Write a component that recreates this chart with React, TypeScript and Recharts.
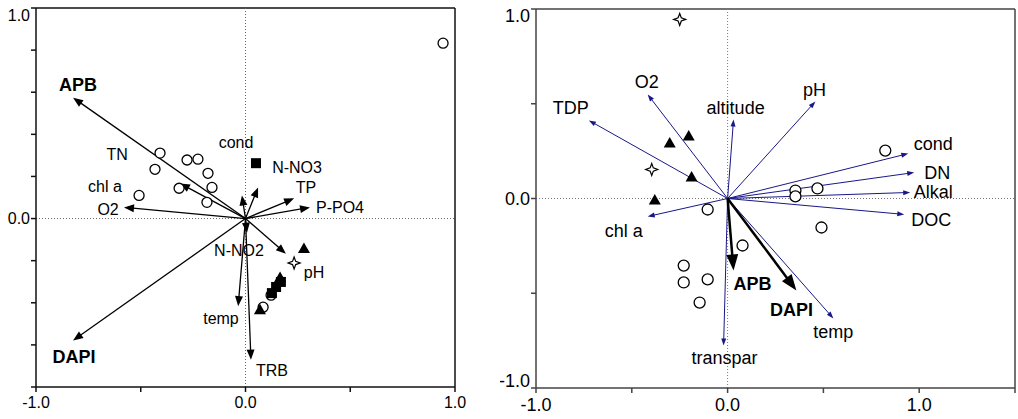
import { ReferenceLine, Scatter, ScatterChart, XAxis, YAxis } from "recharts";

type Pt = { x: number; y: number };
type Named = Pt & { name: string };

// ---- left biplot ----
const leftVectors: Named[] = [
  { name: "APB", x: -0.823, y: 0.574 },
  { name: "DAPI", x: -0.823, y: -0.579 },
  { name: "O2", x: -0.58, y: 0.053 },
  { name: "chl a", x: -0.313, y: 0.167 },
  { name: "cond", x: -0.017, y: 0.11 },
  { name: "N-NO3", x: 0.06, y: 0.148 },
  { name: "TP", x: 0.232, y: 0.096 },
  { name: "P-PO4", x: 0.308, y: 0.053 },
  { name: "N-NO2", x: 0.007, y: -0.067 },
  { name: "pH", x: 0.193, y: -0.167 },
  { name: "temp", x: -0.035, y: -0.416 },
  { name: "TRB", x: 0.026, y: -0.67 },
];

const leftLabels: Named[] = [
  { name: "APB", x: -0.8, y: 0.632 },
  { name: "DAPI", x: -0.819, y: -0.656 },
  { name: "O2", x: -0.656, y: 0.043 },
  { name: "chl a", x: -0.671, y: 0.153 },
  { name: "TN", x: -0.613, y: 0.306 },
  { name: "cond", x: -0.045, y: 0.359 },
  { name: "N-NO3", x: 0.246, y: 0.244 },
  { name: "TP", x: 0.289, y: 0.148 },
  { name: "P-PO4", x: 0.451, y: 0.053 },
  { name: "N-NO2", x: -0.031, y: -0.153 },
  { name: "pH", x: 0.327, y: -0.258 },
  { name: "temp", x: -0.117, y: -0.474 },
  { name: "TRB", x: 0.126, y: -0.722 },
];

const leftCircles: Pt[] = [
  { x: -0.408, y: 0.311 },
  { x: -0.432, y: 0.234 },
  { x: -0.279, y: 0.278 },
  { x: -0.227, y: 0.282 },
  { x: -0.179, y: 0.215 },
  { x: -0.317, y: 0.144 },
  { x: -0.16, y: 0.148 },
  { x: -0.508, y: 0.11 },
  { x: -0.184, y: 0.077 },
  { x: 0.943, y: 0.833 },
  { x: 0.084, y: -0.421 },
  { x: 0.122, y: -0.364 },
];
const leftSquares: Pt[] = [
  { x: 0.05, y: 0.263 },
  { x: 0.169, y: -0.301 },
  { x: 0.146, y: -0.325 },
  { x: 0.126, y: -0.354 },
];
const leftTriangles: Pt[] = [
  { x: 0.279, y: -0.144 },
  { x: 0.069, y: -0.435 },
  { x: 0.165, y: -0.282 },
];
const leftStars: Pt[] = [{ x: 0.232, y: -0.211 }];

const leftXTicks = [-1, -0.5, 0, 0.5, 1];
const leftYTicks = [-0.8, -0.6, -0.4, -0.2, 0, 0.2, 0.4, 0.6, 0.8, 1];
const leftXLabels = [-1, 0, 1];
const leftYLabels = [0, 1];

// ---- right biplot ----
const rightEnv: Named[] = [
  { name: "TDP", x: -0.724, y: 0.412 },
  { name: "O2", x: -0.417, y: 0.549 },
  { name: "altitude", x: 0.031, y: 0.417 },
  { name: "pH", x: 0.458, y: 0.512 },
  { name: "cond", x: 0.943, y: 0.237 },
  { name: "DN", x: 0.974, y: 0.137 },
  { name: "Alkal", x: 0.953, y: 0.032 },
  { name: "DOC", x: 0.922, y: -0.084 },
  { name: "chl a", x: -0.417, y: -0.095 },
  { name: "transpar", x: -0.021, y: -0.776 },
  { name: "temp", x: 0.552, y: -0.633 },
];
const rightResp: Named[] = [
  { name: "APB", x: 0.031, y: -0.38 },
  { name: "DAPI", x: 0.359, y: -0.485 },
];

const rightLabels: Named[] = [
  { name: "TDP", x: -0.818, y: 0.48 },
  { name: "O2", x: -0.422, y: 0.617 },
  { name: "altitude", x: 0.042, y: 0.48 },
  { name: "pH", x: 0.453, y: 0.57 },
  { name: "cond", x: 1.073, y: 0.29 },
  { name: "DN", x: 1.094, y: 0.137 },
  { name: "Alkal", x: 1.073, y: 0.032 },
  { name: "DOC", x: 1.063, y: -0.111 },
  { name: "chl a", x: -0.542, y: -0.169 },
  { name: "transpar", x: -0.016, y: -0.844 },
  { name: "temp", x: 0.552, y: -0.707 },
  { name: "APB", x: 0.13, y: -0.449 },
  { name: "DAPI", x: 0.333, y: -0.586 },
];

const rightCircles: Pt[] = [
  { x: -0.104, y: -0.058 },
  { x: 0.078, y: -0.248 },
  { x: -0.229, y: -0.354 },
  { x: -0.229, y: -0.443 },
  { x: -0.104, y: -0.427 },
  { x: -0.146, y: -0.549 },
  { x: 0.354, y: 0.042 },
  { x: 0.354, y: 0.011 },
  { x: 0.469, y: 0.053 },
  { x: 0.49, y: -0.153 },
  { x: 0.823, y: 0.253 },
];
const rightTriangles: Pt[] = [
  { x: -0.203, y: 0.327 },
  { x: -0.302, y: 0.29 },
  { x: -0.188, y: 0.111 },
  { x: -0.38, y: -0.011 },
];
const rightStars: Pt[] = [
  { x: -0.25, y: 0.945 },
  { x: -0.396, y: 0.153 },
];

const rightXTicks = [-1, -0.5, 0, 0.5, 1, 1.5];
const rightYTicks = [-1, -0.5, 0, 0.5, 1];
const rightXLabels = [-1, 0, 1];
const rightYLabels = [-1, 0, 1];

const speciesNames = ["APB", "DAPI"];

const FONT = "Arial, 'Liberation Sans', sans-serif";
const NAVY = "#181888";

// arrow from origin to the segment end, head drawn as a filled triangle
const arrow =
  (color: string, width: number, head: number, half: number) =>
  (p: any) => {
    const { x1, y1, x2, y2 } = p;
    const dx = x2 - x1;
    const dy = y2 - y1;
    const len = Math.hypot(dx, dy) || 1;
    const ux = dx / len;
    const uy = dy / len;
    const bx = x2 - ux * head;
    const by = y2 - uy * head;
    const pts = `${x2},${y2} ${bx - uy * half},${by + ux * half} ${bx + uy * half},${by - ux * half}`;
    return (
      <g>
        <line x1={x1} y1={y1} x2={bx + ux} y2={by + uy} stroke={color} strokeWidth={width} />
        <polygon points={pts} fill={color} />
      </g>
    );
  };

const circle = (r: number) => (p: any) =>
  <circle cx={p.cx} cy={p.cy} r={r} fill="#fff" stroke="#000" strokeWidth={1.3} />;

const square = (p: any) => <rect x={p.cx - 5} y={p.cy - 5} width={10} height={10} fill="#000" />;

const triangle = (p: any) => (
  <polygon
    points={`${p.cx},${p.cy - 6.5} ${p.cx + 6},${p.cy + 4} ${p.cx - 6},${p.cy + 4}`}
    fill="#000"
  />
);

const star = (p: any) => {
  const { cx, cy } = p;
  const o = 6;
  const i = 1.6;
  const d = `M${cx},${cy - o} L${cx + i},${cy - i} L${cx + o},${cy} L${cx + i},${cy + i} L${cx},${cy + o} L${cx - i},${cy + i} L${cx - o},${cy} L${cx - i},${cy - i} Z`;
  return <path d={d} fill="#fff" stroke="#000" strokeWidth={1.2} />;
};

const label = (size: number, boldSize: number) => (p: any) => {
  const bold = speciesNames.includes(p.payload.name);
  return (
    <text
      x={p.cx}
      y={p.cy}
      textAnchor="middle"
      dominantBaseline="central"
      fontFamily={FONT}
      fontSize={bold ? boldSize : size}
      fontWeight={bold ? "bold" : "normal"}
      fill="#000"
    >
      {p.payload.name}
    </text>
  );
};

const xTick = (shown: number[], size: number) => (p: any) => {
  const v = p.payload.value;
  if (!shown.includes(v)) return <g />;
  return (
    <text x={p.x} y={p.y} dy="0.71em" textAnchor="middle" fontFamily={FONT} fontSize={size} fill="#000">
      {v.toFixed(1)}
    </text>
  );
};

// labels at the ends of the y range are pulled inside the frame
const yTick = (shown: number[], size: number, lo: number, hi: number) => (p: any) => {
  const v = p.payload.value;
  if (!shown.includes(v)) return <g />;
  const shift = v === hi ? 7 : v === lo ? -7 : 0;
  return (
    <text
      x={p.x}
      y={p.y + shift}
      textAnchor="end"
      dominantBaseline="central"
      fontFamily={FONT}
      fontSize={size}
      fill="#000"
    >
      {v.toFixed(1)}
    </text>
  );
};

const LeftPlot = () => (
  <ScatterChart width={472} height={419} margin={{ top: 8, right: 17, bottom: 0, left: 0 }}>
    <XAxis
      type="number"
      dataKey="x"
      domain={[-1, 1]}
      ticks={leftXTicks}
      height={32}
      stroke="#111"
      strokeWidth={1.5}
      tickSize={5}
      tickMargin={5}
      tick={xTick(leftXLabels, 16)}
      interval={0}
    />
    <YAxis
      type="number"
      dataKey="y"
      domain={[-0.8, 1]}
      ticks={leftYTicks}
      width={36}
      stroke="#111"
      strokeWidth={1.5}
      tickSize={5}
      tickMargin={1}
      tick={yTick(leftYLabels, 16, -0.8, 1)}
      interval={0}
    />
    <ReferenceLine y={1} stroke="#111" strokeWidth={1.5} />
    <ReferenceLine x={1} stroke="#111" strokeWidth={1.5} />
    <ReferenceLine x={0} stroke="#666" strokeDasharray="1 2" />
    <ReferenceLine y={0} stroke="#666" strokeDasharray="1 2" />
    {leftVectors.map((v) => (
      <ReferenceLine
        key={v.name}
        segment={[{ x: 0, y: 0 }, { x: v.x, y: v.y }]}
        shape={arrow("#000", 1.3, 10, 4)}
      />
    ))}
    <Scatter data={leftCircles} shape={circle(5)} isAnimationActive={false} />
    <Scatter data={leftSquares} shape={square} isAnimationActive={false} />
    <Scatter data={leftTriangles} shape={triangle} isAnimationActive={false} />
    <Scatter data={leftStars} shape={star} isAnimationActive={false} />
    <Scatter data={leftLabels} shape={label(16, 18)} isAnimationActive={false} />
  </ScatterChart>
);

const RightPlot = () => (
  <ScatterChart width={518} height={419} margin={{ top: 9, right: 3, bottom: 0, left: 0 }}>
    <XAxis
      type="number"
      dataKey="x"
      domain={[-1, 1.5]}
      ticks={rightXTicks}
      height={31}
      stroke="#444"
      strokeWidth={1.5}
      tickSize={5}
      tickMargin={5}
      tick={xTick(rightXLabels, 18)}
      interval={0}
    />
    <YAxis
      type="number"
      dataKey="y"
      domain={[-1, 1]}
      ticks={rightYTicks}
      width={36}
      stroke="#444"
      strokeWidth={1.5}
      tickSize={5}
      tickMargin={1}
      tick={yTick(rightYLabels, 18, -1, 1)}
      interval={0}
    />
    <ReferenceLine y={1} stroke="#444" strokeWidth={1.5} />
    <ReferenceLine x={1.5} stroke="#444" strokeWidth={1.5} />
    <ReferenceLine x={0} stroke="#777" strokeDasharray="1 2" />
    <ReferenceLine y={0} stroke="#777" strokeDasharray="1 2" />
    {rightEnv.map((v) => (
      <ReferenceLine
        key={v.name}
        segment={[{ x: 0, y: 0 }, { x: v.x, y: v.y }]}
        shape={arrow(NAVY, 1, 7, 2.5)}
      />
    ))}
    {rightResp.map((v) => (
      <ReferenceLine
        key={v.name}
        segment={[{ x: 0, y: 0 }, { x: v.x, y: v.y }]}
        shape={arrow("#000", 2.5, 16, 6)}
      />
    ))}
    <Scatter data={rightCircles} shape={circle(5.5)} isAnimationActive={false} />
    <Scatter data={rightTriangles} shape={triangle} isAnimationActive={false} />
    <Scatter data={rightStars} shape={star} isAnimationActive={false} />
    <Scatter data={rightLabels} shape={label(18, 18)} isAnimationActive={false} />
  </ScatterChart>
);

export default function App() {
  return (
    <div
      style={{
        position: "absolute",
        left: 0,
        top: 0,
        width: 1018,
        height: 419,
        background: "#fff",
        overflow: "hidden",
      }}
    >
      <div style={{ position: "absolute", left: 0, top: 0 }}>
        <LeftPlot />
      </div>
      <div style={{ position: "absolute", left: 500, top: 0 }}>
        <RightPlot />
      </div>
    </div>
  );
}
